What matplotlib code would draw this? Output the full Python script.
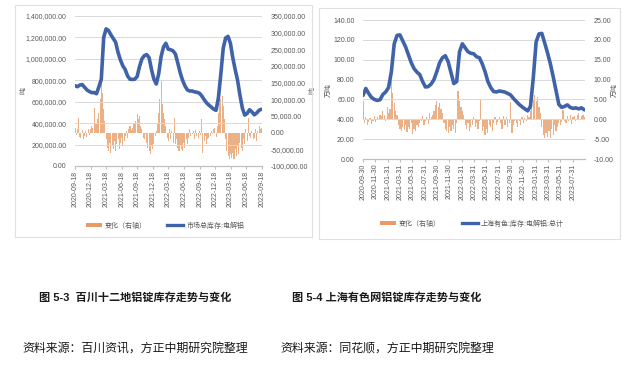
import numpy as np
import pandas as pd
import matplotlib
matplotlib.use('Agg')
import matplotlib.pyplot as plt
from matplotlib.patches import Rectangle, Patch
from matplotlib.lines import Line2D
from matplotlib.ticker import FuncFormatter

plt.rcParams['font.family'] = ['Liberation Sans', 'Noto Sans CJK SC', 'DejaVu Sans']
plt.rcParams['axes.unicode_minus'] = False

# ---------------- 图 5-3 百川十二地铝锭库存 (吨) ----------------
left_start = '2020-09-18'
# 双周库存, 吨
left_stock = [
    750000, 740000, 755000, 760000, 735000, 710000, 695000, 685000, 685000, 675000,
    740000, 810000, 1200000, 1280000, 1265000, 1225000, 1190000, 1155000, 1060000, 990000,
    935000, 900000, 840000, 810000, 808000, 810000, 835000, 930000, 1000000, 1030000,
    1040000, 1010000, 900000, 810000, 765000, 860000, 1020000, 1110000, 1145000, 1090000,
    1085000, 1075000, 1045000, 960000, 870000, 800000, 747000, 710000, 700000, 700000,
    692000, 688000, 680000, 655000, 620000, 590000, 568000, 550000, 530000, 520000,
    640000, 860000, 1100000, 1195000, 1210000, 1145000, 1010000, 900000, 800000, 660000,
    540000, 475000, 490000, 525000, 505000, 478000, 495000, 520000, 530000,
]
# 周度变化, 千吨 (右轴)
left_change_k = [
    15, -8, 10, 44, -12, -15, 8, -18, -10, 6,
    -12, 10, -8, 12, 20, 15, 75, 25, 30, 40,
    60, 100, 157, 120, 70, 35, -20, -45, -55, -30,
    -60, -40, -50, -25, -55, -35, -20, -50, -30, -15,
    -40, -25, -10, 5, -15, 10, 20, 8, 15, 25,
    30, 35, 56, 40, 50, 20, 10, -15, -20, -5,
    -30, -45, -55, -65, -40, -50, -35, -10, 5, 25,
    60, 100, 157, 87, 60, 40, 20, -15, -25, 10,
    -20, 5, -30, 44, -35, -20, -45, -55, -40, -50,
    -55, -30, -45, -20, -35, -15, 10, -10, -5, 5,
    -20, 8, -10, -15, 5, -8, 41, -60, -25, -10,
    -35, -20, -15, -10, 5, -5, 10, 15, -12, 20,
    60, 117, 100, 110, 80, 40, -20, -55, -70, -80,
    -65, -75, -60, -80, -50, -70, -40, -65, -30, -45,
    -55, -20, -35, 10, -25, 44, -10, -15, 5, -20,
    -15, 10, -25, 5, 20, 12, 15,
]
left_xticks = ['2020-09-18', '2020-12-18', '2021-03-18', '2021-06-18', '2021-09-18',
               '2021-12-18', '2022-03-18', '2022-06-18', '2022-09-18', '2022-12-18',
               '2023-03-18', '2023-06-18', '2023-09-18']
left_labels = ['变化（右轴）', '市场总库存:电解铝']

# ---------------- 图 5-4 上海有色网铝锭库存 (万吨) ----------------
right_start = '2020-09-30'
right_stock = [
    64, 71, 66, 62, 60, 59, 59.7, 65, 67.5, 72,
    88, 116, 124.5, 125, 119, 113, 105, 97, 91, 87.5,
    85, 78, 72.5, 73, 75.5, 80, 88, 97, 102, 104,
    98, 87, 76, 78, 108, 116, 112, 108, 106.5, 106,
    103, 102, 96, 88, 78, 72, 68, 67.5, 68.5, 68,
    67.4, 66, 64.5, 61, 58, 55, 52.7, 50.5, 48.5, 53,
    82, 118, 126, 126.5, 117, 107, 96, 83, 69, 55,
    52, 53, 54.5, 52, 51, 51.5, 50.5, 51.5, 49.5,
]
right_change = [
    4.6, -1.0, 0.5, -1.5, -0.8, 0.3, -1.2, -0.5, 0.8, -0.6,
    0.5, -0.3, 1.2, 0.8, 2.0, 1.0, -0.5, 3.0, 1.5, 2.5,
    10.0, 6.5, 4.0, 2.0, 1.0, -1.5, -2.5, -3.0, -2.0, -2.8,
    -1.5, -3.2, -2.0, -2.5, -1.0, -3.8, -2.5, -3.0, -1.5, -2.0,
    -1.0, -0.5, 0.8, -1.5, -0.5, 0.5, -1.2, 1.5, 0.5, 1.0,
    2.0, 3.5, 4.6, 3.0, 4.0, 2.5, 1.5, -1.0, -2.5, -3.0,
    -3.4, -2.0, -3.0, -1.5, -2.5, -3.5, -1.0, 7.0, 4.6, 3.0,
    2.0, 1.0, -1.5, -2.5, -1.0, -3.0, -2.0, -1.5, 0.5, -2.0,
    -1.0, -2.5, -0.5, 4.8, -3.0, -2.0, -4.0, -2.5, -3.5, -1.5,
    -2.0, -3.0, -1.0, 0.5, -1.5, -0.8, 0.6, -1.0, -2.5, 0.8,
    -1.5, 0.5, -2.0, -1.0, 4.3, -3.5, -1.5, -0.5, -1.0, -2.0,
    -0.5, -1.5, 0.5, -1.0, 0.3, -0.5, 1.0, 0.5, 2.0, 3.5,
    5.0, 6.0, 4.5, 5.5, 3.0, 1.5, -2.0, -4.0, -4.8, -3.5,
    -4.5, -3.0, -4.8, -2.5, -4.0, -1.5, -3.0, -2.0, -1.0, -1.5,
    -0.8, 2.3, -0.5, -1.0, 0.8, -0.5, 1.0, -1.2, 0.5, 0.8,
    -0.5, 1.0, 1.5, -0.3, 0.8, 1.2, 0.5,
]
right_xticks = ['2020-09-30', '2020-11-30', '2021-01-31', '2021-03-31', '2021-05-31',
                '2021-07-31', '2021-09-30', '2021-11-30', '2022-01-31', '2022-03-31',
                '2022-05-31', '2022-07-31', '2022-09-30', '2022-11-30', '2023-01-31',
                '2023-03-31', '2023-05-31', '2023-07-31']
right_labels = ['变化（右轴）', '上海有色:库存:电解铝:总计']

captions = ['图 5-3  百川十二地铝锭库存走势与变化', '图 5-4 上海有色网铝锭库存走势与变化']
sources = ['资料来源：百川资讯，方正中期研究院整理', '资料来源：同花顺，方正中期研究院整理']

BLUE = '#3F62A9'
ORANGE = '#E79C68'
GRID = '#D9D9D9'
TXT = '#595959'

W, H = 631, 367
fig = plt.figure(figsize=(W / 100, H / 100), dpi=100)


def px(x0, y0, x1, y1):
    return [x0 / W, 1 - y1 / H, (x1 - x0) / W, (y1 - y0) / H]


def fmt2(v, pos):
    return f'{v:,.2f}'


def draw_panel(rect, start, stock, change, xticks, xlim, ylim, y2lim, ystep, y2step,
               ylabel, labels, leg_xy, lpad):
    ax = fig.add_axes(rect)
    ax2 = ax.twinx()
    bar_dates = pd.date_range(start, periods=len(change), freq='7D')
    line_dates = bar_dates[::2][:len(stock)]
    ax2.bar(bar_dates, change, width=6, color=ORANGE, linewidth=0, alpha=0.8)
    ax.plot(line_dates, stock, color=BLUE, lw=2.6, solid_capstyle='round')
    ax.set_zorder(ax2.get_zorder() + 1)
    ax.patch.set_visible(False)

    ax.set_ylim(*ylim)
    ax2.set_ylim(*y2lim)
    ax.set_yticks(np.arange(ylim[0], ylim[1] + ystep / 2, ystep))
    ax2.set_yticks(np.arange(y2lim[0], y2lim[1] + y2step / 2, y2step))
    ax.yaxis.set_major_formatter(FuncFormatter(fmt2))
    ax2.yaxis.set_major_formatter(FuncFormatter(fmt2))
    ax.grid(axis='y', color=GRID, lw=0.7)
    ax.set_xlim(pd.Timestamp(xlim[0]), pd.Timestamp(xlim[1]))
    ax.set_xticks([pd.Timestamp(t) for t in xticks])
    ax.set_xticklabels(xticks, rotation=90)

    for a in (ax, ax2):
        for s in ('top', 'left', 'right'):
            a.spines[s].set_visible(False)
        a.spines['bottom'].set_color('#BFBFBF')
        a.tick_params(axis='y', length=0, labelsize=5, labelcolor=TXT, pad=6)
    ax.tick_params(axis='x', length=2, color='#BFBFBF', labelsize=5, labelcolor=TXT, pad=1.5)

    ax.set_ylabel(ylabel, fontsize=5, color=TXT, labelpad=lpad[0])
    ax2.set_ylabel(ylabel, fontsize=5, color=TXT, labelpad=lpad[1])

    handles = [Patch(facecolor=ORANGE, edgecolor='none'),
               Line2D([0], [0], color=BLUE, lw=2.4)]
    fig.legend(handles, labels, loc='center', ncol=2, frameon=False,
               bbox_to_anchor=(leg_xy[0] / W, 1 - leg_xy[1] / H),
               fontsize=5, labelcolor=TXT, handlelength=2.3, handleheight=0.6,
               columnspacing=3.0, handletextpad=0.4)
    return ax, ax2


# 外框
fig.patches.append(Rectangle((15 / W, 1 - 237 / H), 297 / W, 232 / H,
                             transform=fig.transFigure, fill=False, edgecolor='#E0E0E0', lw=0.8))
fig.patches.append(Rectangle((319 / W, 1 - 239 / H), 301 / W, 231 / H,
                             transform=fig.transFigure, fill=False, edgecolor='#E0E0E0', lw=0.8))

draw_panel(px(75, 16, 262, 166), left_start, left_stock, [v * 1000 for v in left_change_k],
           left_xticks, ('2020-09-18', '2023-09-18'), (0, 1400000), (-100000, 350000),
           200000, 50000, '吨', left_labels, (165, 226), (-1, 1))

draw_panel(px(363, 20, 585, 159), right_start, right_stock, right_change,
           right_xticks, ('2020-09-30', '2023-09-30'), (0, 140), (-10, 25),
           20, 5, '万吨', right_labels, (472, 224), (0, -1))

fig.text(135 / W, 1 - 297 / H, captions[0], ha='center', va='center',
         fontsize=8, fontweight='bold', color='#1A1A1A')
fig.text(387 / W, 1 - 297 / H, captions[1], ha='center', va='center',
         fontsize=8, fontweight='bold', color='#1A1A1A')
fig.text(135 / W, 1 - 349 / H, sources[0], ha='center', va='center',
         fontsize=8.6, color='#1A1A1A')
fig.text(387 / W, 1 - 349 / H, sources[1], ha='center', va='center',
         fontsize=8.6, color='#1A1A1A')

fig.savefig('out.png', dpi=100)
